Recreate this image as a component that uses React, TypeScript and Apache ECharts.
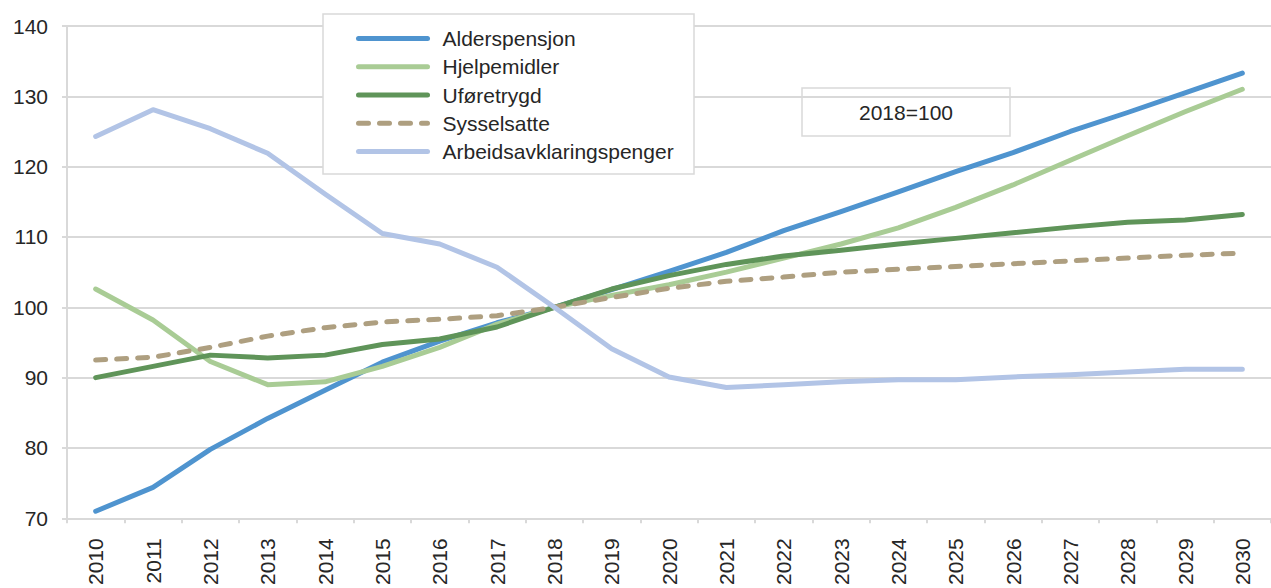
import React, { useEffect, useRef } from "react";
import * as echarts from "echarts";

const years = ["2010","2011","2012","2013","2014","2015","2016","2017","2018","2019","2020","2021","2022","2023","2024","2025","2026","2027","2028","2029","2030"];
const alderspensjon = [71.0, 74.4, 79.8, 84.2, 88.2, 92.2, 95.2, 97.8, 100, 102.5, 105.1, 107.8, 110.9, 113.6, 116.4, 119.3, 122.0, 125.0, 127.7, 130.5, 133.3];
const hjelpemidler = [102.6, 98.2, 92.3, 89.0, 89.4, 91.6, 94.3, 97.6, 100, 101.7, 103.2, 105.0, 107.0, 109.0, 111.3, 114.2, 117.4, 120.9, 124.4, 127.8, 131.0];
const uforetrygd = [90.0, 91.6, 93.2, 92.8, 93.2, 94.7, 95.5, 97.2, 100, 102.6, 104.5, 106.1, 107.3, 108.1, 109.0, 109.8, 110.6, 111.4, 112.1, 112.4, 113.2];
const sysselsatte = [92.5, 92.9, 94.3, 95.9, 97.1, 97.9, 98.3, 98.8, 100, 101.4, 102.7, 103.7, 104.3, 105.0, 105.4, 105.8, 106.2, 106.6, 107.0, 107.4, 107.7];
const aap = [124.3, 128.1, 125.4, 121.9, 116.1, 110.5, 109.0, 105.7, 100, 94.1, 90.1, 88.6, 89.0, 89.4, 89.7, 89.7, 90.1, 90.4, 90.8, 91.2, 91.2];

const seriesNames = ["Alderspensjon", "Hjelpemidler", "Uføretrygd", "Sysselsatte", "Arbeidsavklaringspenger"];
const seriesColors = ["#4f94cf", "#a9cc95", "#5f9459", "#ae9f80", "#b2c4e6"];
const yTicks = { min: 70, max: 140, interval: 10 };
const noteText = "2018=100";

const FONT = "Liberation Sans, Arial, sans-serif";
const TXT = "#262626";
const GRID = "#d9d9d9";

export default function App() {
  const ref = useRef<HTMLDivElement>(null);
  useEffect(() => {
    if (!ref.current) return;
    const chart = echarts.init(ref.current, null, { renderer: "svg" });
    const data = [alderspensjon, hjelpemidler, uforetrygd, sysselsatte, aap];
    chart.setOption({
      animation: false,
      backgroundColor: "#ffffff",
      textStyle: { fontFamily: FONT },
      grid: { left: 67, right: -11, top: 26, bottom: 66, containLabel: false },
      xAxis: {
        type: "category",
        data: years,
        boundaryGap: true,
        axisLine: { show: true, lineStyle: { color: GRID, width: 2 } },
        axisTick: { show: true, length: 5, lineStyle: { color: GRID, width: 2 } },
        axisLabel: { rotate: 90, margin: 20, fontSize: 21, color: TXT, fontFamily: FONT, interval: 0 },
        splitLine: { show: false },
      },
      yAxis: {
        type: "value",
        min: yTicks.min,
        max: yTicks.max,
        interval: yTicks.interval,
        axisLine: { show: true, lineStyle: { color: GRID, width: 2 } },
        axisTick: { show: true, length: 5, lineStyle: { color: GRID, width: 2 } },
        axisLabel: { margin: 19, fontSize: 21, color: TXT, fontFamily: FONT },
        splitLine: { show: true, lineStyle: { color: GRID, width: 2 } },
      },
      legend: {
        show: true,
        orient: "vertical",
        left: 356,
        top: 28,
        padding: 0,
        itemWidth: 69,
        itemHeight: 20,
        itemGap: 7.25,
        z: 20,
        data: seriesNames,
        itemStyle: { opacity: 0 },
        lineStyle: { width: 5, cap: "round" },
        textStyle: { fontSize: 21, color: TXT, fontFamily: FONT, lineHeight: 20, padding: [0, 0, 0, 10] },
      },
      graphic: [
        {
          type: "rect",
          z: 10,
          shape: { x: 323, y: 14, width: 371, height: 160 },
          style: { fill: "#ffffff", stroke: GRID, lineWidth: 1.5 },
        },
        {
          type: "group",
          z: 10,
          children: [
            {
              type: "rect",
              shape: { x: 802, y: 88, width: 208, height: 48 },
              style: { fill: "#ffffff", stroke: GRID, lineWidth: 1.5 },
            },
            {
              type: "text",
              x: 906,
              y: 112,
              style: { text: noteText, fill: TXT, fontSize: 21, fontFamily: FONT, align: "center", verticalAlign: "middle" },
            },
          ],
        },
      ],
      series: seriesNames.map((name, i) => ({
        name,
        type: "line",
        data: data[i],
        symbol: "none",
        smooth: false,
        color: seriesColors[i],
        lineStyle: {
          color: seriesColors[i],
          width: 5,
          cap: "round",
          join: "round",
          type: i === 3 ? [10, 11] : "solid",
        },
        emphasis: { disabled: true },
      })),
    });
    return () => chart.dispose();
  }, []);
  return <div ref={ref} style={{ position: "fixed", left: 0, top: 0, width: 1271, height: 588 }} />;
}
